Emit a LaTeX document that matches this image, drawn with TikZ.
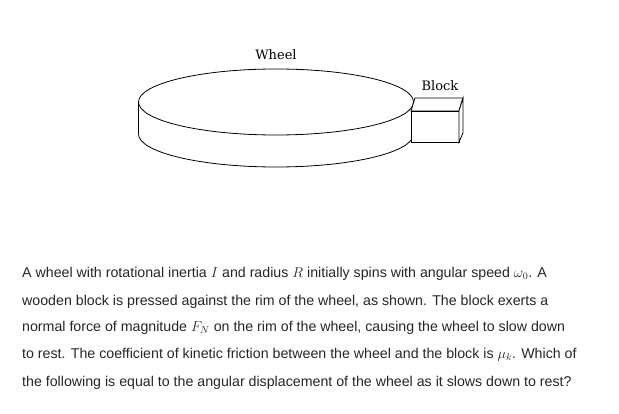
\documentclass[tikz,border=0pt]{standalone}
\usepackage{fontspec}
\setmainfont{Liberation Sans}
\newfontfamily\labfont{DejaVu Serif}
\begin{document}
\begin{tikzpicture}[x=1pt,y=-1pt,
  line/.style={black,line width=0.8pt},
  lab/.style={font=\labfont\fontsize{13}{15}\selectfont},
  txt/.style={anchor=west,inner sep=0pt,font=\fontsize{14.2}{16}\selectfont,text=black!85}]
\useasboundingbox (0,0) rectangle (619,414);
\fill[white] (0,0) rectangle (619,414);
% wheel
\draw[line] (138.5,102) -- (138.5,134);
\draw[line] (413.5,102) -- (413.5,134);
\draw[line] (138.5,134) arc[start angle=180,end angle=0,x radius=137.5,y radius=33];
\draw[line] (276,102) ellipse[x radius=137.5,y radius=33];
% block
\draw[line,fill=white] (411,111) rectangle (459,142);
\draw[line,fill=white] (411,111) -- (415,98) -- (463,98) -- (459,111) -- cycle;
\draw[line,fill=white] (459,111) -- (463,98) -- (463,133) -- (459,142) -- cycle;
\node[lab] (wheel) at (276,55) {Wheel};
\node[lab] (block) at (440,86) {Block};
% text
\node[txt] (l1) at (22,274) {A wheel with rotational inertia $I$ and radius $R$ initially spins with angular speed $\omega_0$. A};
\node[txt] (l2) at (22,302) {wooden block is pressed against the rim of the wheel, as shown. The block exerts a};
\node[txt] (l3) at (22,328) {normal force of magnitude $F_N$ on the rim of the wheel, causing the wheel to slow down};
\node[txt] (l4) at (22,355) {to rest. The coefficient of kinetic friction between the wheel and the block is $\mu_k$. Which of};
\node[txt] (l5) at (22,383) {the following is equal to the angular displacement of the wheel as it slows down to rest?};
\end{tikzpicture}
\end{document}
